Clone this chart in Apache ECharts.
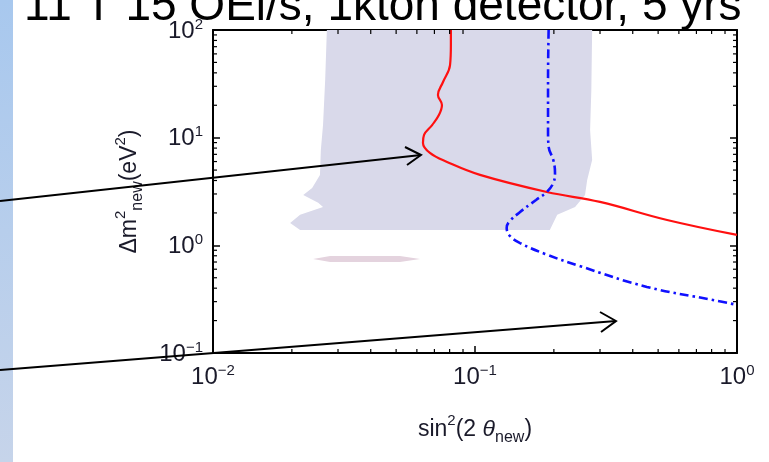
<!DOCTYPE html>
<html><head><meta charset="utf-8">
<script src="https://cdn.jsdelivr.net/npm/echarts@6/dist/echarts.min.js"></script>
<style>html,body{margin:0;padding:0;background:#fff}#c{width:769px;height:462px}</style>
</head><body><div id="c"></div>
<script>
// ---- data (sin^2(2θ), Δm^2 in eV^2) ----
const titleText = '11 T 15 OEi/s, 1kton detector, 5 yrs';
const xTickValues = [0.01, 0.1, 1];
const xTickSup = ['\u22122', '\u22121', '0'];
const yTickValues = [0.1, 1, 10, 100];
const yTickSup = ['\u22121', '0', '1', '2'];
const minorMultipliers = [2, 3, 4, 5, 6, 7, 8, 9];

const redCurve = [
  [0.0809, 100], [0.0809, 72.6], [0.0803, 47.3], [0.0755, 32.9], [0.0722, 24.9],
  [0.0748, 20.1], [0.0729, 16.3], [0.0686, 13.1], [0.0639, 10.6], [0.0633, 8.93],
  [0.0673, 7.21], [0.0782, 5.95], [0.1045, 4.51], [0.188, 3.13], [0.300, 2.53],
  [0.541, 1.72], [1.0, 1.25]
];
const blueCurve = [
  [0.191, 100], [0.190, 34.3], [0.190, 11.8], [0.191, 8.20], [0.199, 6.21],
  [0.202, 4.70], [0.199, 3.80], [0.188, 3.13], [0.171, 2.64], [0.1486, 2.04],
  [0.1349, 1.65], [0.1321, 1.45], [0.136, 1.22], [0.1486, 1.05], [0.185, 0.832],
  [0.252, 0.640], [0.453, 0.411], [0.809, 0.311], [1.0, 0.280]
];
const shadedRegion = [
  [0.0272, 100], [0.0268, 34.3], [0.0263, 13.1], [0.0258, 7.69], [0.0256, 4.51],
  [0.0239, 3.41], [0.0221, 2.94], [0.0252, 2.48], [0.0263, 2.27], [0.0215, 1.92],
  [0.0197, 1.61], [0.0215, 1.39], [0.193, 1.39], [0.206, 1.92], [0.241, 2.27],
  [0.263, 2.94], [0.268, 4.05], [0.280, 6.21], [0.275, 11.8], [0.278, 27.7], [0.280, 100]
];
const pinkBand = [
  [0.0241, 0.748], [0.028, 0.797], [0.0517, 0.797], [0.0617, 0.748], [0.0517, 0.702], [0.028, 0.702]
];

const minorX = [];
[0.01, 0.1].forEach(d => minorMultipliers.forEach(m => minorX.push(d * m)));
const minorY = [];
[0.1, 1, 10].forEach(d => minorMultipliers.forEach(m => minorY.push(d * m)));

function supLabel(values, sups) {
  return function (v) {
    let i = 0, best = Infinity;
    values.forEach((t, k) => { const d = Math.abs(Math.log10(v) - Math.log10(t)); if (d < best) { best = d; i = k; } });
    return '{b|10}{s|' + sups[i] + '}';
  };
}
const TXT = '#1a1a2a';
const labelRich = {
  b: { fontSize: 24, fontFamily: 'Liberation Sans', color: TXT, lineHeight: 26, verticalAlign: 'bottom' },
  s: { fontSize: 15, fontFamily: 'Liberation Sans', color: TXT, lineHeight: 26, verticalAlign: 'top' }
};
const nameRich = {
  t: { fontSize: 23, fontFamily: 'Liberation Sans', color: TXT, lineHeight: 28, verticalAlign: 'bottom' },
  i: { fontSize: 23, fontFamily: 'Liberation Sans', fontStyle: 'italic', color: TXT, lineHeight: 28, verticalAlign: 'bottom' },
  s: { fontSize: 15, fontFamily: 'Liberation Sans', color: TXT, lineHeight: 28, verticalAlign: 'top' },
  u: { fontSize: 16, fontFamily: 'Liberation Sans', color: TXT, lineHeight: 28, verticalAlign: 'bottom', padding: [0, 0, -5, 0] }
};

const chart = echarts.init(document.getElementById('c'));
const XMIN = 0.01, XMAX = 1, YMIN = 0.1, YMAX = 100;

function polygonItem(points, color) {
  return function (params, api) {
    const pts = points.map(p => api.coord(p));
    return { type: 'polygon', shape: { points: pts }, style: { fill: color }, z2: 0 };
  };
}
const axisCommon = {
  type: 'log', logBase: 10,
  axisLine: { show: true, lineStyle: { color: '#000', width: 2 } },
  axisTick: { inside: true, length: 7, lineStyle: { color: '#000', width: 1.5 } },
  splitLine: { show: false }
};

chart.setOption({
  animation: false,
  grid: { left: 213, right: 32, top: 30, bottom: 109, containLabel: false },
  xAxis: [
    Object.assign({}, axisCommon, {
      min: XMIN, max: XMAX,
      axisLabel: { margin: 10, formatter: supLabel(xTickValues, xTickSup), rich: labelRich },
      name: '{t|sin}{s|2}{t|(2 }{i|θ}{u|new}{t|)}',
      nameLocation: 'middle', nameGap: 60,
      nameTextStyle: { rich: nameRich }
    }),
    Object.assign({}, axisCommon, {
      min: XMIN, max: XMAX, position: 'top', axisLabel: { show: false }
    })
  ],
  yAxis: [
    Object.assign({}, axisCommon, {
      min: YMIN, max: YMAX,
      axisLabel: { margin: 10, formatter: supLabel(yTickValues, yTickSup), rich: labelRich },
      name: '{t|Δm}{s|2}{u|new}{t|(eV}{s|2}{t|)}',
      nameLocation: 'middle', nameGap: 72, nameRotate: 90,
      nameTextStyle: { rich: nameRich }
    }),
    Object.assign({}, axisCommon, {
      min: YMIN, max: YMAX, position: 'right', axisLabel: { show: false }
    })
  ],
  series: [
    {
      type: 'custom', coordinateSystem: 'cartesian2d', z: 1,
      data: [[XMIN, YMIN]], clip: true, silent: true,
      renderItem: polygonItem(shadedRegion, '#d9d9ea')
    },
    {
      type: 'custom', coordinateSystem: 'cartesian2d', z: 1,
      data: [[XMIN, YMIN]], clip: true, silent: true,
      renderItem: polygonItem(pinkBand, '#e4d3de')
    },
    {
      type: 'line', data: redCurve, smooth: 0.4, showSymbol: false, z: 3,
      lineStyle: { color: '#ff1010', width: 2.2 }, clip: true
    },
    {
      type: 'line', data: blueCurve, smooth: 0.4, showSymbol: false, z: 3,
      lineStyle: { color: '#1010ff', width: 2.6, type: [9, 4, 2.5, 4] }, clip: true
    },
    {
      type: 'custom', coordinateSystem: 'cartesian2d', z: 5, silent: true, clip: false,
      data: minorX.map(v => [v, YMIN]),
      renderItem: function (params, api) {
        const v = api.value(0);
        const b = api.coord([v, YMIN]), t = api.coord([v, YMAX]);
        return { type: 'group', children: [
          { type: 'line', shape: { x1: b[0], y1: b[1], x2: b[0], y2: b[1] - 4 }, style: { stroke: '#000', lineWidth: 1.2 } },
          { type: 'line', shape: { x1: t[0], y1: t[1], x2: t[0], y2: t[1] + 4 }, style: { stroke: '#000', lineWidth: 1.2 } }
        ] };
      }
    },
    {
      type: 'custom', coordinateSystem: 'cartesian2d', z: 5, silent: true, clip: false,
      data: minorY.map(v => [XMIN, v]),
      renderItem: function (params, api) {
        const v = api.value(1);
        const l = api.coord([XMIN, v]), r = api.coord([XMAX, v]);
        return { type: 'group', children: [
          { type: 'line', shape: { x1: l[0], y1: l[1], x2: l[0] + 4, y2: l[1] }, style: { stroke: '#000', lineWidth: 1.2 } },
          { type: 'line', shape: { x1: r[0], y1: r[1], x2: r[0] - 4, y2: r[1] }, style: { stroke: '#000', lineWidth: 1.2 } }
        ] };
      }
    }
  ],
  graphic: [
    {
      type: 'rect', left: 0, top: 0, z: 10,
      shape: { width: 13, height: 462 },
      style: { fill: new echarts.graphic.LinearGradient(0, 0, 0, 1, [
        { offset: 0, color: '#a8c8ee' }, { offset: 1, color: '#c6d4ea' }]) }
    },
    {
      type: 'text', x: 24, y: 30, z: 10,
      style: { text: titleText, font: '46px "Liberation Sans"', fill: '#000', verticalAlign: 'bottom' }
    },
    { type: 'line', z: 20, shape: { x1: 0, y1: 201, x2: 421, y2: 155 }, style: { stroke: '#000', lineWidth: 2 } },
    { type: 'polyline', z: 20, shape: { points: [[405, 147], [421, 155], [407, 165]] }, style: { stroke: '#000', lineWidth: 2, fill: null } },
    { type: 'line', z: 20, shape: { x1: 0, y1: 370, x2: 616, y2: 321 }, style: { stroke: '#000', lineWidth: 2 } },
    { type: 'polyline', z: 20, shape: { points: [[600, 312], [616, 321], [601, 332]] }, style: { stroke: '#000', lineWidth: 2, fill: null } }
  ]
});
</script>
</body></html>
